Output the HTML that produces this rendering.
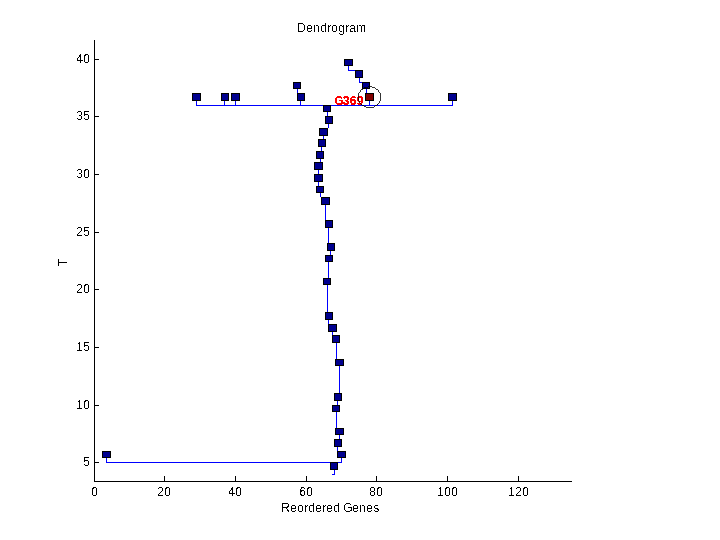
<!DOCTYPE html>
<html><head><meta charset="utf-8"><title>Dendrogram</title>
<style>
html,body{margin:0;padding:0;background:#fff;}
body{width:720px;height:540px;overflow:hidden;position:relative;}
svg{position:absolute;left:0;top:0;display:block;}
.t{font-family:"Liberation Sans",Arial,sans-serif;font-size:12px;fill:#000;}
.g{font-family:"Liberation Sans",Arial,sans-serif;font-size:12px;font-weight:bold;fill:#f00;}
</style></head><body>
<svg width="720" height="540" viewBox="0 0 720 540">
<defs><filter id="al" x="-5%" y="-20%" width="110%" height="140%" color-interpolation-filters="sRGB"><feComponentTransfer><feFuncA type="discrete" tableValues="0 1"/></feComponentTransfer></filter><filter id="al2" x="-5%" y="-20%" width="110%" height="140%" color-interpolation-filters="sRGB"><feComponentTransfer><feFuncA type="discrete" tableValues="0 0 1 1 1"/></feComponentTransfer></filter></defs>
<rect x="0" y="0" width="720" height="540" fill="#fff"/>
<g shape-rendering="crispEdges">
<rect x="94" y="40" width="1" height="442" fill="#000"/>
<rect x="94" y="481" width="478" height="1" fill="#000"/>
<rect x="94" y="476" width="1" height="5" fill="#000"/>
<rect x="164" y="476" width="1" height="5" fill="#000"/>
<rect x="235" y="476" width="1" height="5" fill="#000"/>
<rect x="306" y="476" width="1" height="5" fill="#000"/>
<rect x="376" y="476" width="1" height="5" fill="#000"/>
<rect x="447" y="476" width="1" height="5" fill="#000"/>
<rect x="518" y="476" width="1" height="5" fill="#000"/>
<rect x="94" y="59" width="5" height="1" fill="#000"/>
<rect x="94" y="116" width="5" height="1" fill="#000"/>
<rect x="94" y="174" width="5" height="1" fill="#000"/>
<rect x="94" y="232" width="5" height="1" fill="#000"/>
<rect x="94" y="289" width="5" height="1" fill="#000"/>
<rect x="94" y="347" width="5" height="1" fill="#000"/>
<rect x="94" y="405" width="5" height="1" fill="#000"/>
<rect x="94" y="462" width="5" height="1" fill="#000"/>
<rect x="348" y="66" width="1" height="5" fill="#00f"/>
<rect x="359" y="78" width="1" height="5" fill="#00f"/>
<rect x="366" y="89" width="1" height="4" fill="#00f"/>
<rect x="369" y="101" width="1" height="4" fill="#00f"/>
<rect x="297" y="89" width="1" height="4" fill="#00f"/>
<rect x="300" y="101" width="1" height="4" fill="#00f"/>
<rect x="196" y="101" width="1" height="4" fill="#00f"/>
<rect x="224" y="101" width="1" height="4" fill="#00f"/>
<rect x="235" y="101" width="1" height="4" fill="#00f"/>
<rect x="452" y="101" width="1" height="5" fill="#00f"/>
<rect x="327" y="112" width="1" height="4" fill="#00f"/>
<rect x="328" y="124" width="1" height="4" fill="#00f"/>
<rect x="323" y="136" width="1" height="3" fill="#00f"/>
<rect x="321" y="147" width="1" height="4" fill="#00f"/>
<rect x="320" y="159" width="1" height="3" fill="#00f"/>
<rect x="318" y="170" width="1" height="4" fill="#00f"/>
<rect x="318" y="182" width="1" height="4" fill="#00f"/>
<rect x="320" y="193" width="1" height="4" fill="#00f"/>
<rect x="325" y="205" width="1" height="15" fill="#00f"/>
<rect x="328" y="228" width="1" height="15" fill="#00f"/>
<rect x="330" y="251" width="1" height="4" fill="#00f"/>
<rect x="328" y="262" width="1" height="16" fill="#00f"/>
<rect x="327" y="285" width="1" height="27" fill="#00f"/>
<rect x="328" y="320" width="1" height="4" fill="#00f"/>
<rect x="332" y="332" width="1" height="3" fill="#00f"/>
<rect x="336" y="343" width="1" height="16" fill="#00f"/>
<rect x="339" y="366" width="1" height="27" fill="#00f"/>
<rect x="337" y="401" width="1" height="4" fill="#00f"/>
<rect x="336" y="412" width="1" height="16" fill="#00f"/>
<rect x="339" y="435" width="1" height="4" fill="#00f"/>
<rect x="337" y="447" width="1" height="4" fill="#00f"/>
<rect x="341" y="458" width="1" height="5" fill="#00f"/>
<rect x="106" y="458" width="1" height="5" fill="#00f"/>
<rect x="334" y="470" width="1" height="5" fill="#00f"/>
<rect x="348" y="70" width="7" height="1" fill="#00f"/>
<rect x="359" y="82" width="3" height="1" fill="#00f"/>
<rect x="196" y="105" width="257" height="1" fill="#00f"/>
<rect x="106" y="462" width="236" height="1" fill="#00f"/>
<rect x="332" y="474" width="3" height="1" fill="#00f"/>
<rect x="344" y="59" width="9" height="7" fill="#000"/>
<rect x="345" y="60" width="7" height="5" fill="#00008f"/>
<rect x="355" y="70" width="8" height="8" fill="#000"/>
<rect x="356" y="71" width="6" height="6" fill="#00008f"/>
<rect x="362" y="82" width="8" height="7" fill="#000"/>
<rect x="363" y="83" width="6" height="5" fill="#00008f"/>
<rect x="365" y="93" width="9" height="8" fill="#000"/>
<rect x="366" y="94" width="7" height="6" fill="#800000"/>
<rect x="192" y="93" width="9" height="8" fill="#000"/>
<rect x="193" y="94" width="7" height="6" fill="#00008f"/>
<rect x="221" y="93" width="8" height="8" fill="#000"/>
<rect x="222" y="94" width="6" height="6" fill="#00008f"/>
<rect x="231" y="93" width="9" height="8" fill="#000"/>
<rect x="232" y="94" width="7" height="6" fill="#00008f"/>
<rect x="297" y="93" width="8" height="8" fill="#000"/>
<rect x="298" y="94" width="6" height="6" fill="#00008f"/>
<rect x="448" y="93" width="9" height="8" fill="#000"/>
<rect x="449" y="94" width="7" height="6" fill="#00008f"/>
<rect x="293" y="82" width="8" height="7" fill="#000"/>
<rect x="294" y="83" width="6" height="5" fill="#00008f"/>
<rect x="323" y="105" width="8" height="7" fill="#000"/>
<rect x="324" y="106" width="6" height="5" fill="#00008f"/>
<rect x="325" y="116" width="8" height="8" fill="#000"/>
<rect x="326" y="117" width="6" height="6" fill="#00008f"/>
<rect x="319" y="128" width="9" height="8" fill="#000"/>
<rect x="320" y="129" width="7" height="6" fill="#00008f"/>
<rect x="318" y="139" width="8" height="8" fill="#000"/>
<rect x="319" y="140" width="6" height="6" fill="#00008f"/>
<rect x="316" y="151" width="8" height="8" fill="#000"/>
<rect x="317" y="152" width="6" height="6" fill="#00008f"/>
<rect x="314" y="162" width="9" height="8" fill="#000"/>
<rect x="315" y="163" width="7" height="6" fill="#00008f"/>
<rect x="314" y="174" width="9" height="8" fill="#000"/>
<rect x="315" y="175" width="7" height="6" fill="#00008f"/>
<rect x="316" y="186" width="8" height="7" fill="#000"/>
<rect x="317" y="187" width="6" height="5" fill="#00008f"/>
<rect x="321" y="197" width="9" height="8" fill="#000"/>
<rect x="322" y="198" width="7" height="6" fill="#00008f"/>
<rect x="325" y="220" width="8" height="8" fill="#000"/>
<rect x="326" y="221" width="6" height="6" fill="#00008f"/>
<rect x="327" y="243" width="8" height="8" fill="#000"/>
<rect x="328" y="244" width="6" height="6" fill="#00008f"/>
<rect x="325" y="255" width="8" height="7" fill="#000"/>
<rect x="326" y="256" width="6" height="5" fill="#00008f"/>
<rect x="323" y="278" width="8" height="7" fill="#000"/>
<rect x="324" y="279" width="6" height="5" fill="#00008f"/>
<rect x="325" y="312" width="8" height="8" fill="#000"/>
<rect x="326" y="313" width="6" height="6" fill="#00008f"/>
<rect x="328" y="324" width="9" height="8" fill="#000"/>
<rect x="329" y="325" width="7" height="6" fill="#00008f"/>
<rect x="332" y="335" width="8" height="8" fill="#000"/>
<rect x="333" y="336" width="6" height="6" fill="#00008f"/>
<rect x="335" y="359" width="9" height="7" fill="#000"/>
<rect x="336" y="360" width="7" height="5" fill="#00008f"/>
<rect x="334" y="393" width="8" height="8" fill="#000"/>
<rect x="335" y="394" width="6" height="6" fill="#00008f"/>
<rect x="332" y="405" width="8" height="7" fill="#000"/>
<rect x="333" y="406" width="6" height="5" fill="#00008f"/>
<rect x="335" y="428" width="9" height="7" fill="#000"/>
<rect x="336" y="429" width="7" height="5" fill="#00008f"/>
<rect x="334" y="439" width="8" height="8" fill="#000"/>
<rect x="335" y="440" width="6" height="6" fill="#00008f"/>
<rect x="337" y="451" width="9" height="7" fill="#000"/>
<rect x="338" y="452" width="7" height="5" fill="#00008f"/>
<rect x="330" y="462" width="8" height="8" fill="#000"/>
<rect x="331" y="463" width="6" height="6" fill="#00008f"/>
<rect x="102" y="451" width="9" height="7" fill="#000"/>
<rect x="103" y="452" width="7" height="5" fill="#00008f"/>
</g>
<g filter="url(#al2)"><text class="g" transform="translate(0,105) scale(1,1.08)" x="334.25 342.8 349.8 356.8" y="0">G369</text></g>
<ellipse cx="369.5" cy="97.2" rx="11.5" ry="10.5" fill="none" stroke="#000" stroke-width="0.8" shape-rendering="crispEdges"/>
<g filter="url(#al)">
<text class="t" transform="translate(0,32) scale(1,1.08)" x="297.25 306.25 313.25 320.25 327.25 331.25 338.25 345.25 349.25 356.25" y="0">Dendrogram</text>
<text class="t" transform="translate(0,512) scale(1,1.08)" x="281.25 290.25 297.25 304.25 308.25 315.25 322.25 326.25 333.25 340.25 343.25 352.25 359.25 366.25 373.25" y="0">Reordered Genes</text>
<text class="t" transform="translate(67,262.5) rotate(-90) scale(1,1.08)" text-anchor="middle">T</text>
<text class="t" transform="translate(0,496) scale(1,1.08)" x="91.25" y="0">0</text>
<text class="t" transform="translate(0,496) scale(1,1.08)" x="157.25 164.25" y="0">20</text>
<text class="t" transform="translate(0,496) scale(1,1.08)" x="228.25 235.25" y="0">40</text>
<text class="t" transform="translate(0,496) scale(1,1.08)" x="299.25 306.25" y="0">60</text>
<text class="t" transform="translate(0,496) scale(1,1.08)" x="369.25 376.25" y="0">80</text>
<text class="t" transform="translate(0,496) scale(1,1.08)" x="437.25 444.25 451.25" y="0">100</text>
<text class="t" transform="translate(0,496) scale(1,1.08)" x="508.25 515.25 522.25" y="0">120</text>
<text class="t" transform="translate(0,63) scale(1,1.08)" x="76.25 83.25" y="0">40</text>
<text class="t" transform="translate(0,120) scale(1,1.08)" x="76.25 83.25" y="0">35</text>
<text class="t" transform="translate(0,178) scale(1,1.08)" x="76.25 83.25" y="0">30</text>
<text class="t" transform="translate(0,236) scale(1,1.08)" x="76.25 83.25" y="0">25</text>
<text class="t" transform="translate(0,293) scale(1,1.08)" x="76.25 83.25" y="0">20</text>
<text class="t" transform="translate(0,351) scale(1,1.08)" x="76.25 83.25" y="0">15</text>
<text class="t" transform="translate(0,409) scale(1,1.08)" x="76.25 83.25" y="0">10</text>
<text class="t" transform="translate(0,466) scale(1,1.08)" x="83.25" y="0">5</text>
</g>
</svg></body></html>
